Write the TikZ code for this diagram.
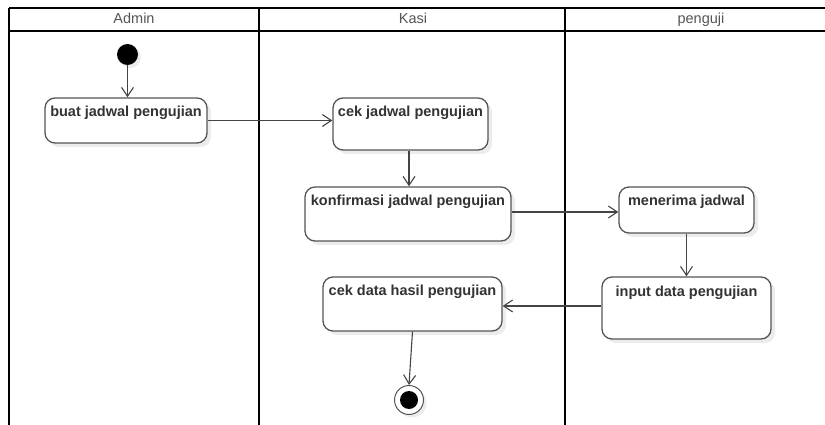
\documentclass[tikz,border=0pt]{standalone}
\usepackage{fontspec}
\setmainfont{Liberation Sans}
\usetikzlibrary{arrows.meta,shadows}
\definecolor{ink}{HTML}{333333}
\definecolor{edge}{HTML}{555555}
\definecolor{hdr}{HTML}{555555}
\definecolor{wire}{HTML}{444444}

\begin{document}
\begin{tikzpicture}[x=1pt,y=-1pt,
  lane/.style={line width=2.2pt, draw=black},
  lanetitle/.style={font=\fontsize{14.5}{16}\selectfont, text=hdr, anchor=base},
  act/.style={rectangle, draw=edge, line width=1.3pt, fill=white,
    rounded corners=10pt, inner sep=0pt,
    drop shadow={shadow xshift=4pt, shadow yshift=-4pt, opacity=0.15}},
  actlabel/.style={font=\bfseries\fontsize{14.5}{16}\selectfont, text=ink, anchor=base},
  flow/.style={draw=wire, line width=1.1pt, -{Straight Barb[length=9pt,width=12pt]}},
]
\useasboundingbox (0,0) rectangle (825,425);

% swimlanes
\draw[lane] (9,8) -- (825,8);
\draw[lane] (9,31) -- (825,31);
\draw[lane] (9,8) -- (9,425);
\draw[lane] (259,8) -- (259,425);
\draw[lane] (565,8) -- (565,425);
\node[lanetitle] (tAdmin) at (134,24) {Admin};
\node[lanetitle] (tKasi) at (413,24) {Kasi};
\node[lanetitle] (tPenguji) at (701,24) {penguji};

% initial node
\node[circle, fill=black, minimum size=21pt, inner sep=0pt,
  drop shadow={shadow xshift=3pt, shadow yshift=-3pt, opacity=0.15}] (start) at (127.5,54.5) {};

% activities
\node[act, minimum width=162pt, minimum height=45pt] (buat) at (126,120.5) {};
\node[actlabel] at ([yshift=-19pt]buat.north) {buat jadwal pengujian};

\node[act, minimum width=155pt, minimum height=52pt] (cek) at (410.5,124) {};
\node[actlabel] at ([yshift=-19pt]cek.north) {cek jadwal pengujian};

\node[act, minimum width=206pt, minimum height=54pt] (konf) at (408,214) {};
\node[actlabel] at ([yshift=-19pt]konf.north) {konfirmasi jadwal pengujian};

\node[act, minimum width=135pt, minimum height=46pt] (terima) at (686.5,210) {};
\node[actlabel] at ([yshift=-19pt]terima.north) {menerima jadwal};

\node[act, minimum width=169pt, minimum height=62pt] (input) at (686.5,308) {};
\node[actlabel] at ([yshift=-20pt]input.north) {input data pengujian};

\node[act, minimum width=179pt, minimum height=54pt] (cekdata) at (412.5,304) {};
\node[actlabel] at ([yshift=-19pt]cekdata.north) {cek data hasil pengujian};

% final node
\node[circle, draw=edge, line width=1pt, fill=white, minimum size=29pt, inner sep=0pt,
  drop shadow={shadow xshift=3pt, shadow yshift=-3pt, opacity=0.15}] (end) at (409,400) {};
\node[circle, fill=black, minimum size=18pt, inner sep=0pt] (endcore) at (end.center) {};

% control flow
\draw[flow] (start.south) -- (start.south |- buat.north);
\draw[flow] (buat.east) -- (buat.east -| cek.west);
\draw[flow] (cek.south -| 409,0) -- (konf.north -| 409,0);
\draw[flow] (konf.east |- 0,212) -- (terima.west |- 0,212);
\draw[flow] (terima.south) -- (input.north);
\draw[flow] (input.west |- 0,306) -- (cekdata.east |- 0,306);
\draw[flow] (cekdata.south) -- (end.north);
\end{tikzpicture}
\end{document}
